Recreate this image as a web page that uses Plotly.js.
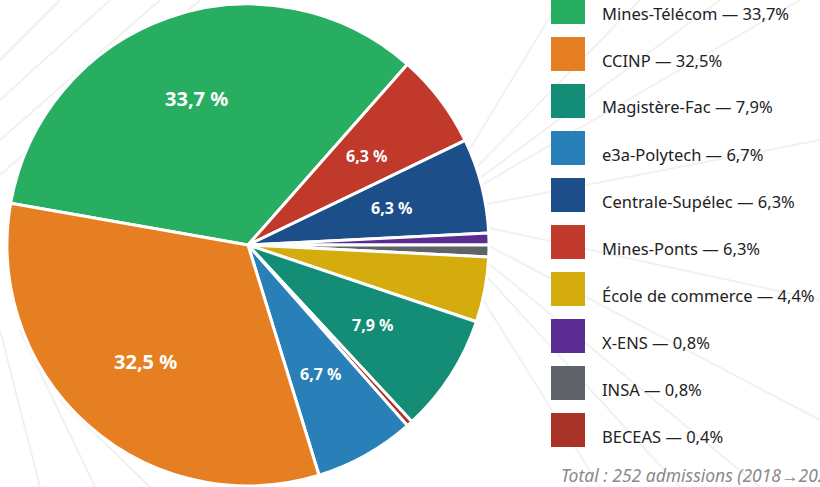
<!DOCTYPE html>
<html>
<head>
<meta charset="utf-8">
<script src="https://cdn.plot.ly/plotly-3.0.1.min.js"></script>
<style>
  html, body { margin: 0; padding: 0; background: #ffffff; }
  #chart { width: 820px; height: 487px; }
</style>
</head>
<body>
<div id="chart"></div>
<script>
// Slice order (clockwise, starting with Mines-Télécom)
const sliceLabels = ["Mines-Télécom", "Mines-Ponts", "Centrale-Supélec", "X-ENS", "INSA",
                     "École de commerce", "Magistère-Fac", "BECEAS", "e3a-Polytech", "CCINP"];
const sliceCounts = [85, 16, 16, 2, 2, 11, 20, 1, 17, 82];
const sliceColors = ["#27ae60", "#c0392b", "#1c4f8a", "#5b2c91", "#5f6368",
                     "#d4ac0d", "#138d75", "#a93226", "#2980b9", "#e67e22"];

// Legend order
const legendLabels = ["Mines-Télécom", "CCINP", "Magistère-Fac", "e3a-Polytech", "Centrale-Supélec",
                      "Mines-Ponts", "École de commerce", "X-ENS", "INSA", "BECEAS"];
const totalAdmissions = 252;
const totalNote = "Total : 252 admissions (2018→2024)";

const W = 820, H = 487;
const font = "Noto Sans, Open Sans, sans-serif";
const rotationDeg = 280;
// pie geometry (pixels)
const pieX0 = 7, pieX1 = 489, pieYTop = 4, pieYBot = 486;
const cxPx = (pieX0 + pieX1) / 2, cyPx = (pieYTop + pieYBot) / 2, rPx = (pieX1 - pieX0) / 2;

function pctStr(v, sep) {
  return (v / totalAdmissions * 100).toFixed(1).replace('.', ',') + sep + '%';
}

const pie = {
  type: 'pie',
  labels: sliceLabels,
  values: sliceCounts,
  sort: false,
  direction: 'clockwise',
  rotation: rotationDeg,
  marker: { colors: sliceColors, line: { color: '#ffffff', width: 3 } },
  textinfo: 'none',
  hoverinfo: 'none',
  showlegend: false,
  domain: { x: [pieX0 / W, pieX1 / W], y: [1 - pieYBot / H, 1 - pieYTop / H] }
};

const shapes = [];
const annotations = [];

// faint decorative background lines
const bgLines = [
  [0, 175, 200, 0], [0, 140, 160, 0], [0, 100, 110, 0], [0, 60, 60, 0],
  [40, 487, 0, 330], [95, 487, 20, 330], [150, 487, 60, 400],
  [430, 215, 560, 0], [430, 215, 640, 0], [430, 215, 720, 0], [430, 215, 800, 0],
  [430, 215, 600, 487], [430, 215, 680, 487], [430, 215, 760, 487], [430, 215, 820, 420],
  [430, 215, 820, 300], [430, 215, 820, 140]
];
bgLines.forEach(l => shapes.push({
  type: 'line', xref: 'paper', yref: 'paper', layer: 'below',
  x0: l[0] / W, y0: 1 - l[1] / H, x1: l[2] / W, y1: 1 - l[3] / H,
  line: { color: '#f1f1f1', width: 2 }
}));

// slice percentage labels (only slices >= 6 %), placed along each slice's mid-angle
let cum = 0;
sliceCounts.forEach(v => {
  const frac = v / totalAdmissions;
  const mid = (rotationDeg + (cum + frac / 2) * 360) * Math.PI / 180;
  cum += frac;
  if (frac < 0.06) return;
  const rr = rPx * (frac > 0.2 ? 0.645 : 0.615);
  annotations.push({
    xref: 'paper', yref: 'paper',
    x: (cxPx + rr * Math.sin(mid)) / W, y: 1 - (cyPx - rr * Math.cos(mid)) / H,
    xanchor: 'center', yanchor: 'middle', showarrow: false,
    text: '<b>' + pctStr(v, ' ') + '</b>',
    font: { family: font, size: frac > 0.2 ? 20 : 16, color: '#ffffff' }
  });
});

// custom legend
legendLabels.forEach((lab, i) => {
  const idx = sliceLabels.indexOf(lab);
  const top = -10 + 47 * i;
  shapes.push({
    type: 'rect', xref: 'paper', yref: 'paper', layer: 'above',
    x0: 551 / W, x1: 585 / W, y0: 1 - (top + 34) / H, y1: 1 - top / H,
    fillcolor: sliceColors[idx], line: { width: 0 }
  });
  annotations.push({
    xref: 'paper', yref: 'paper', x: 600 / W, y: 1 - (top + 23) / H,
    xanchor: 'left', yanchor: 'middle', showarrow: false,
    text: lab + ' — ' + pctStr(sliceCounts[idx], ''),
    font: { family: font, size: 16.5, color: '#222222' }
  });
});

annotations.push({
  xref: 'paper', yref: 'paper', x: 559 / W, y: 1 - 475 / H,
  xanchor: 'left', yanchor: 'middle', showarrow: false,
  text: '<i>' + totalNote + '</i>',
  font: { family: font, size: 17.5, color: '#8a8a8a' }
});

const layout = {
  width: W, height: H,
  margin: { l: 0, r: 0, t: 0, b: 0 },
  paper_bgcolor: '#ffffff',
  plot_bgcolor: '#ffffff',
  showlegend: false,
  shapes: shapes,
  annotations: annotations,
  font: { family: font }
};

Plotly.newPlot('chart', [pie], layout, { displayModeBar: false, staticPlot: true });
</script>
</body>
</html>
